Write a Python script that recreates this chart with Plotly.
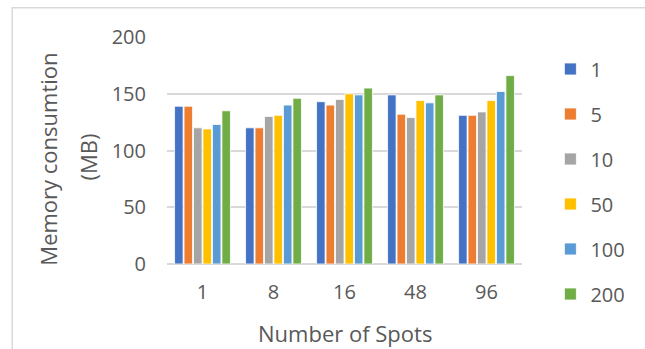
import plotly.graph_objects as go

categories = ["1", "8", "16", "48", "96"]
series_names = ["1", "5", "10", "50", "100", "200"]
s1 = [139, 120, 143, 149, 131]
s5 = [139, 120, 140, 132, 131]
s10 = [120, 130, 145, 129, 134]
s50 = [119, 131, 150, 144, 144]
s100 = [123, 140, 149, 142, 152]
s200 = [135, 146, 155, 149, 166]
values = [s1, s5, s10, s50, s100, s200]
colors = ["#4472C4", "#ED7D31", "#A5A5A5", "#FFC000", "#5B9BD5", "#70AD47"]

FONT = "Open Sans"
TXT = "#595959"

fig = go.Figure()
for name, vals, col in zip(series_names, values, colors):
    fig.add_trace(go.Bar(
        x=categories, y=vals, name=name, legendgroup=name,
        marker=dict(color=col, line=dict(color="white", width=0.8)),
    ))

fig.update_layout(
    width=645, height=349,
    margin=dict(l=167, r=123, t=37, b=85),
    paper_bgcolor="white", plot_bgcolor="white",
    barmode="group", bargap=0.2, bargroupgap=0.1,
    font=dict(family=FONT, color=TXT, size=20),
    showlegend=True,
    legend=dict(
        x=1.08, xanchor="left", y=0.945, yanchor="top",
        font=dict(size=20, color=TXT, family=FONT),
        tracegroupgap=16, itemwidth=30, maxheight=340,
    ),
    xaxis=dict(
        type="category", showgrid=False, showline=False, zeroline=False,
        ticks="", tickfont=dict(size=20), ticklabelstandoff=14,
    ),
    yaxis=dict(
        range=[0, 200], tickvals=[0, 50, 100, 150, 200],
        showgrid=True, gridcolor="#D9D9D9", gridwidth=1.5,
        zeroline=True, zerolinecolor="#D9D9D9", zerolinewidth=1.5,
        showline=False, ticks="", tickfont=dict(size=20), ticklabelstandoff=20,
    ),
    annotations=[
        dict(text="Number of Spots", xref="paper", yref="paper", x=0.502, y=-0.304,
             xanchor="center", yanchor="middle", showarrow=False,
             font=dict(size=22, color=TXT, family=FONT)),
        dict(text="Memory consumtion", xref="paper", yref="paper", x=-0.335, y=0.46,
             xanchor="center", yanchor="middle", showarrow=False, textangle=-90,
             font=dict(size=22, color=TXT, family=FONT)),
        dict(text="(MB)", xref="paper", yref="paper", x=-0.222, y=0.47,
             xanchor="center", yanchor="middle", showarrow=False, textangle=-90,
             font=dict(size=22, color=TXT, family=FONT)),
    ],
    shapes=[
        dict(type="rect", xref="paper", yref="paper",
             x0=-0.436, x1=1.4, y0=-0.45, y1=1.129,
             line=dict(color="#D9D9D9", width=1.5), fillcolor="rgba(0,0,0,0)", layer="below"),
    ],
)

fig.write_html("out.html", config={"displayModeBar": False},
               post_script="document.body.style.margin='0';document.body.style.overflow='hidden';")
